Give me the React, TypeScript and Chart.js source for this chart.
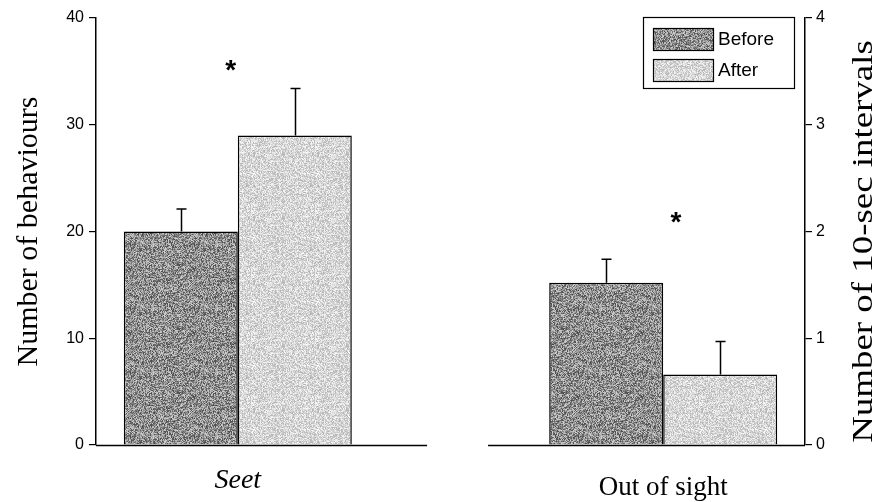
import { useEffect, useRef } from 'react';
import { Chart, registerables } from 'chart.js';

Chart.register(...registerables);

// Groups along the x axis
const categories = ['Seet', 'Out of sight'];
const groupPositions = [2, 8];
const seriesLabels = ['Before', 'After'];

// "Seet" panel: number of behaviours (left axis), means and error bars
const seetMeans = [20.0, 29.0];
const seetErrors = [2.1, 4.4];

// "Out of sight" panel: number of 10-sec intervals (right axis)
const outOfSightMeans = [1.52, 0.66];
const outOfSightErrors = [0.22, 0.31];

// Axis ticks
const behaviourTicks = [0, 10, 20, 30, 40];
const intervalTicks = [0, 1, 2, 3, 4];

// Significance markers per group
const significance = ['*', '*'];

const SERIF = '"Liberation Serif", "Times New Roman", serif';
const SANS = '"Liberation Sans", Arial, sans-serif';

// Stippled print-style fill
function makeStipple(base: number, spread: number, seed: number): CanvasPattern | string {
  const size = 64;
  const c = document.createElement('canvas');
  c.width = size;
  c.height = size;
  const g = c.getContext('2d');
  if (!g) return `rgb(${base},${base},${base})`;
  const img = g.createImageData(size, size);
  for (let y = 0; y < size; y++) {
    for (let x = 0; x < size; x++) {
      let h = Math.imul(x + 1, 374761393) ^ Math.imul(y + 7, 668265263) ^ Math.imul(seed, 2246822519);
      h = Math.imul(h ^ (h >>> 13), 1274126177);
      h ^= h >>> 16;
      const t = (h >>> 0) / 4294967295;
      const v = Math.max(0, Math.min(255, Math.round(base + (t - 0.5) * spread)));
      const i = (y * size + x) * 4;
      img.data[i] = v;
      img.data[i + 1] = v;
      img.data[i + 2] = v;
      img.data[i + 3] = 255;
    }
  }
  g.putImageData(img, 0, 0);
  const p = g.createPattern(c, 'repeat');
  return p || `rgb(${base},${base},${base})`;
}

const decorations = {
  id: 'decorations',
  afterDatasetsDraw(chart: any, _args: any, opts: any) {
    const { ctx, chartArea } = chart;
    const xs = chart.scales.x;
    ctx.save();

    // broken baseline under each panel
    ctx.strokeStyle = '#000';
    ctx.lineWidth = 1.5;
    const yb = chartArea.bottom + 0.5;
    ctx.beginPath();
    ctx.moveTo(chartArea.left, yb);
    ctx.lineTo(xs.getPixelForValue(opts.leftBaseEnd), yb);
    ctx.moveTo(xs.getPixelForValue(opts.rightBaseStart), yb);
    ctx.lineTo(chartArea.right, yb);
    ctx.stroke();

    // error bars (upper only)
    chart.data.datasets.forEach((ds: any, di: number) => {
      const meta = chart.getDatasetMeta(di);
      const ys = chart.scales[ds.yAxisID];
      ds.data.forEach((pt: any, i: number) => {
        if (pt.y === null || pt.y === undefined) return;
        const bar = meta.data[i];
        const err = ds.errors[i];
        const yTop = ys.getPixelForValue(pt.y + err);
        const x = Math.round(bar.x) + 0.5;
        ctx.beginPath();
        ctx.lineWidth = 1.5;
        ctx.moveTo(x, bar.y);
        ctx.lineTo(x, yTop);
        ctx.moveTo(x - 5, yTop);
        ctx.lineTo(x + 5, yTop);
        ctx.stroke();
      });
    });

    // significance markers
    const starSize = 28;
    ctx.fillStyle = '#000';
    ctx.font = `bold ${starSize}px ${SANS}`;
    ctx.textAlign = 'center';
    ctx.textBaseline = 'alphabetic';
    opts.markers.forEach((m: any, i: number) => {
      const ys = chart.scales[m.axis];
      ctx.fillText(significance[i], xs.getPixelForValue(m.x), ys.getPixelForValue(m.y) + starSize * 0.57);
    });

    // right axis title, reading bottom to top, slightly stretched along its length
    const y2 = chart.scales.y2;
    ctx.save();
    ctx.translate(y2.right - 22, (chartArea.top + chartArea.bottom) / 2 + 10);
    ctx.rotate(-Math.PI / 2);
    ctx.scale(1.23, 1);
    ctx.font = `30px ${SERIF}`;
    ctx.textAlign = 'center';
    ctx.textBaseline = 'middle';
    ctx.fillStyle = '#000';
    ctx.fillText('Number of 10-sec intervals', 0, 0);
    ctx.restore();

    // legend box
    const lx = chartArea.right - 162;
    const ly = chartArea.top - 1;
    const lw = 151;
    const lh = 71;
    ctx.fillStyle = '#fff';
    ctx.fillRect(lx, ly, lw, lh);
    ctx.lineWidth = 1.2;
    ctx.strokeStyle = '#000';
    ctx.strokeRect(lx + 0.5, ly + 0.5, lw, lh);
    ctx.font = `19px ${SANS}`;
    ctx.textAlign = 'left';
    ctx.textBaseline = 'middle';
    seriesLabels.forEach((label, i) => {
      const sy = ly + 11 + i * 31;
      ctx.fillStyle = chart.data.datasets[i].backgroundColor;
      ctx.fillRect(lx + 10, sy, 60, 22);
      ctx.lineWidth = 1.2;
      ctx.strokeRect(lx + 10.5, sy + 0.5, 60, 22);
      ctx.fillStyle = '#000';
      ctx.fillText(label, lx + 75, sy + 12);
    });

    ctx.restore();
  },
};

export default function App() {
  const canvasRef = useRef<HTMLCanvasElement | null>(null);

  useEffect(() => {
    const canvas = canvasRef.current;
    if (!canvas) return;
    Chart.defaults.font.family = SANS;
    Chart.defaults.color = '#000';

    const beforeFill = makeStipple(142, 140, 11);
    const afterFill = makeStipple(214, 70, 23);

    const common = {
      borderColor: '#000',
      borderWidth: 1.5,
      borderSkipped: 'start',
      skipNull: true,
      barPercentage: 1,
      categoryPercentage: 0.536,
    };

    const chart = new Chart(canvas, {
      type: 'bar',
      data: {
        datasets: [
          {
            ...common,
            label: seriesLabels[0],
            yAxisID: 'y',
            backgroundColor: beforeFill,
            data: [
              { x: groupPositions[0], y: seetMeans[0] },
              { x: groupPositions[1], y: null },
            ],
            errors: [seetErrors[0], 0],
          },
          {
            ...common,
            label: seriesLabels[1],
            yAxisID: 'y',
            backgroundColor: afterFill,
            data: [
              { x: groupPositions[0], y: seetMeans[1] },
              { x: groupPositions[1], y: null },
            ],
            errors: [seetErrors[1], 0],
          },
          {
            ...common,
            label: seriesLabels[0],
            yAxisID: 'y2',
            backgroundColor: beforeFill,
            data: [
              { x: groupPositions[0], y: null },
              { x: groupPositions[1], y: outOfSightMeans[0] },
            ],
            errors: [0, outOfSightErrors[0]],
          },
          {
            ...common,
            label: seriesLabels[1],
            yAxisID: 'y2',
            backgroundColor: afterFill,
            data: [
              { x: groupPositions[0], y: null },
              { x: groupPositions[1], y: outOfSightMeans[1] },
            ],
            errors: [0, outOfSightErrors[1]],
          },
        ] as any,
      },
      options: {
        animation: false,
        responsive: true,
        maintainAspectRatio: false,
        layout: { padding: { top: 18, left: 0, right: 0, bottom: 0 } },
        plugins: {
          legend: { display: false },
          tooltip: { enabled: false },
          decorations: {
            leftBaseEnd: 4.67,
            rightBaseStart: 5.53,
            markers: [
              { x: 1.9, y: 35.8, axis: 'y' },
              { x: 8.18, y: 2.15, axis: 'y2' },
            ],
          },
        } as any,
        scales: {
          x: {
            type: 'linear',
            min: 0,
            max: 10,
            offset: false,
            grid: { display: false },
            border: { display: false },
            afterBuildTicks: (scale: any) => {
              scale.ticks = groupPositions.map((v) => ({ value: v }));
            },
            afterFit: (scale: any) => {
              scale.height = 57;
            },
            ticks: {
              autoSkip: false,
              maxRotation: 0,
              padding: 11,
              color: '#000',
              callback: (_v: any, i: number) => categories[i],
              font: (ctx: any) =>
                ctx.index === 0
                  ? { family: SERIF, size: 28, style: 'italic', lineHeight: 1.2 }
                  : { family: SERIF, size: 27, style: 'normal', lineHeight: 1.76 },
            },
          },
          y: {
            type: 'linear',
            position: 'left',
            min: 0,
            max: 40,
            afterBuildTicks: (scale: any) => {
              scale.ticks = behaviourTicks.map((v) => ({ value: v }));
            },
            afterFit: (scale: any) => {
              scale.width = 96;
            },
            grid: {
              drawOnChartArea: false,
              drawTicks: true,
              tickLength: 7,
              color: '#000',
              lineWidth: 1.2,
            },
            border: { display: true, color: '#000', width: 1.5 },
            ticks: { padding: 5, color: '#000', font: { family: SANS, size: 16 } },
            title: {
              display: true,
              text: 'Number of behaviours',
              color: '#000',
              font: { family: SERIF, size: 30 },
              padding: { top: 11, bottom: 0 },
            },
          },
          y2: {
            type: 'linear',
            position: 'right',
            min: 0,
            max: 4,
            afterBuildTicks: (scale: any) => {
              scale.ticks = intervalTicks.map((v) => ({ value: v }));
            },
            afterFit: (scale: any) => {
              scale.width = 81;
            },
            grid: {
              drawOnChartArea: false,
              drawTicks: true,
              tickLength: 7,
              color: '#000',
              lineWidth: 1.2,
            },
            border: { display: true, color: '#000', width: 1.5 },
            ticks: { padding: 4, color: '#000', font: { family: SANS, size: 16 } },
          },
        },
      },
      plugins: [decorations],
    } as any);

    return () => chart.destroy();
  }, []);

  return (
    <div style={{ position: 'fixed', left: 0, top: 0, width: 886, height: 502, background: '#fff' }}>
      <canvas ref={canvasRef} />
    </div>
  );
}
